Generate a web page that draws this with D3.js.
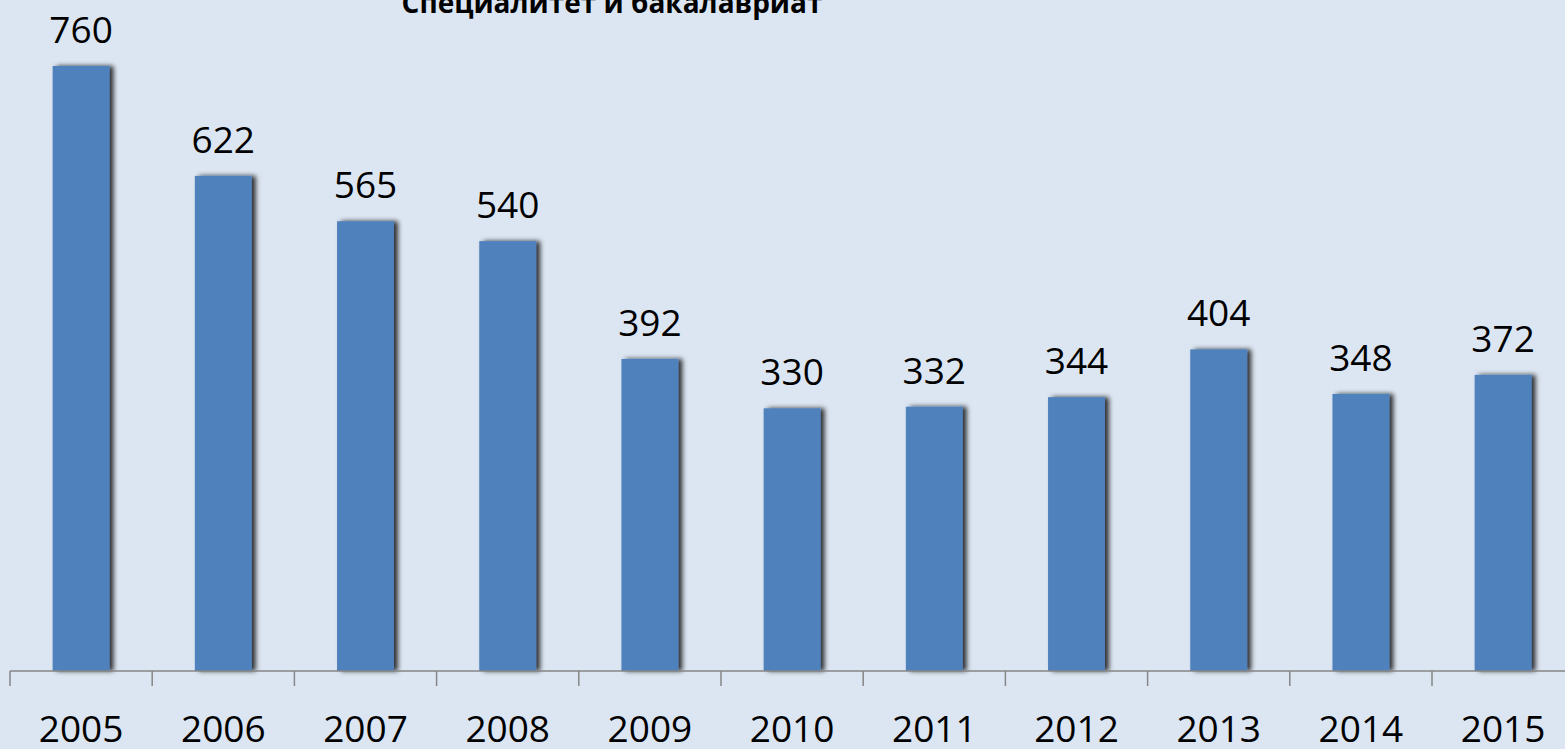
<!DOCTYPE html>
<html>
<head>
<meta charset="utf-8">
<script src="https://cdn.jsdelivr.net/npm/d3@7"></script>
<style>
  html, body { margin: 0; padding: 0; background: #dce6f2; overflow: hidden; }
  text { font-family: "Open Sans", sans-serif; fill: #000; }
</style>
</head>
<body>
<div id="chart"></div>
<script>
// Data
const years = ["2005", "2006", "2007", "2008", "2009", "2010", "2011", "2012", "2013", "2014", "2015"];
const values = [760, 622, 565, 540, 392, 330, 332, 344, 404, 348, 372];
const title = "Специалитет и бакалавриат";

const W = 1565, H = 749;
const baseY = 671, left = 10, step = 142.2;

const svg = d3.select("#chart").append("svg")
    .attr("width", W)
    .attr("height", H);

svg.append("rect")
    .attr("width", W).attr("height", H)
    .attr("fill", "#dce6f2");

// shadow on the right side of each bar
const defs = svg.append("defs");
const f = defs.append("filter").attr("id", "shadow")
    .attr("x", "-20%").attr("y", "-5%").attr("width", "160%").attr("height", "110%");
f.append("feDropShadow")
    .attr("dx", 4).attr("dy", 0)
    .attr("stdDeviation", 2.5)
    .attr("flood-color", "#000")
    .attr("flood-opacity", 0.8);

// Scales
const x = d3.scaleBand()
    .domain(years)
    .range([left, left + step * years.length])
    .paddingInner(0.6)
    .paddingOuter(0.3);

const y = d3.scaleLinear()
    .domain([0, 760])
    .range([baseY, 66]);

// Title (clipped at the top as in the original)
svg.append("text")
    .attr("x", 612)
    .attr("y", 13)
    .attr("text-anchor", "middle")
    .style("font-size", "28px")
    .style("font-weight", "bold")
    .text(title);

// Bars
svg.selectAll("rect.bar")
    .data(years)
    .enter().append("rect")
    .attr("class", "bar")
    .attr("x", d => x(d))
    .attr("y", (d, i) => y(values[i]))
    .attr("width", x.bandwidth())
    .attr("height", (d, i) => baseY - y(values[i]))
    .attr("fill", "#4f81bd")
    .attr("filter", "url(#shadow)");

// Value labels
svg.selectAll("text.val")
    .data(years)
    .enter().append("text")
    .attr("class", "val")
    .attr("x", d => x(d) + x.bandwidth() / 2)
    .attr("y", (d, i) => y(values[i]) - 23)
    .attr("text-anchor", "middle")
    .style("font-size", "37px")
    .text((d, i) => values[i]);

// Axis: line, ticks between categories, labels
const axis = svg.append("g");
axis.append("line")
    .attr("x1", left).attr("x2", W)
    .attr("y1", baseY).attr("y2", baseY)
    .attr("stroke", "#868686").attr("stroke-width", 1.5);

axis.selectAll("line.tick")
    .data(years)
    .enter().append("line")
    .attr("class", "tick")
    .attr("x1", d => x(d) - x.step() * x.paddingOuter())
    .attr("x2", d => x(d) - x.step() * x.paddingOuter())
    .attr("y1", baseY).attr("y2", baseY + 15)
    .attr("stroke", "#868686").attr("stroke-width", 1.5);

axis.selectAll("text.year")
    .data(years)
    .enter().append("text")
    .attr("class", "year")
    .attr("x", d => x(d) + x.bandwidth() / 2)
    .attr("y", 742)
    .attr("text-anchor", "middle")
    .style("font-size", "37px")
    .text(d => d);
</script>
</body>
</html>
